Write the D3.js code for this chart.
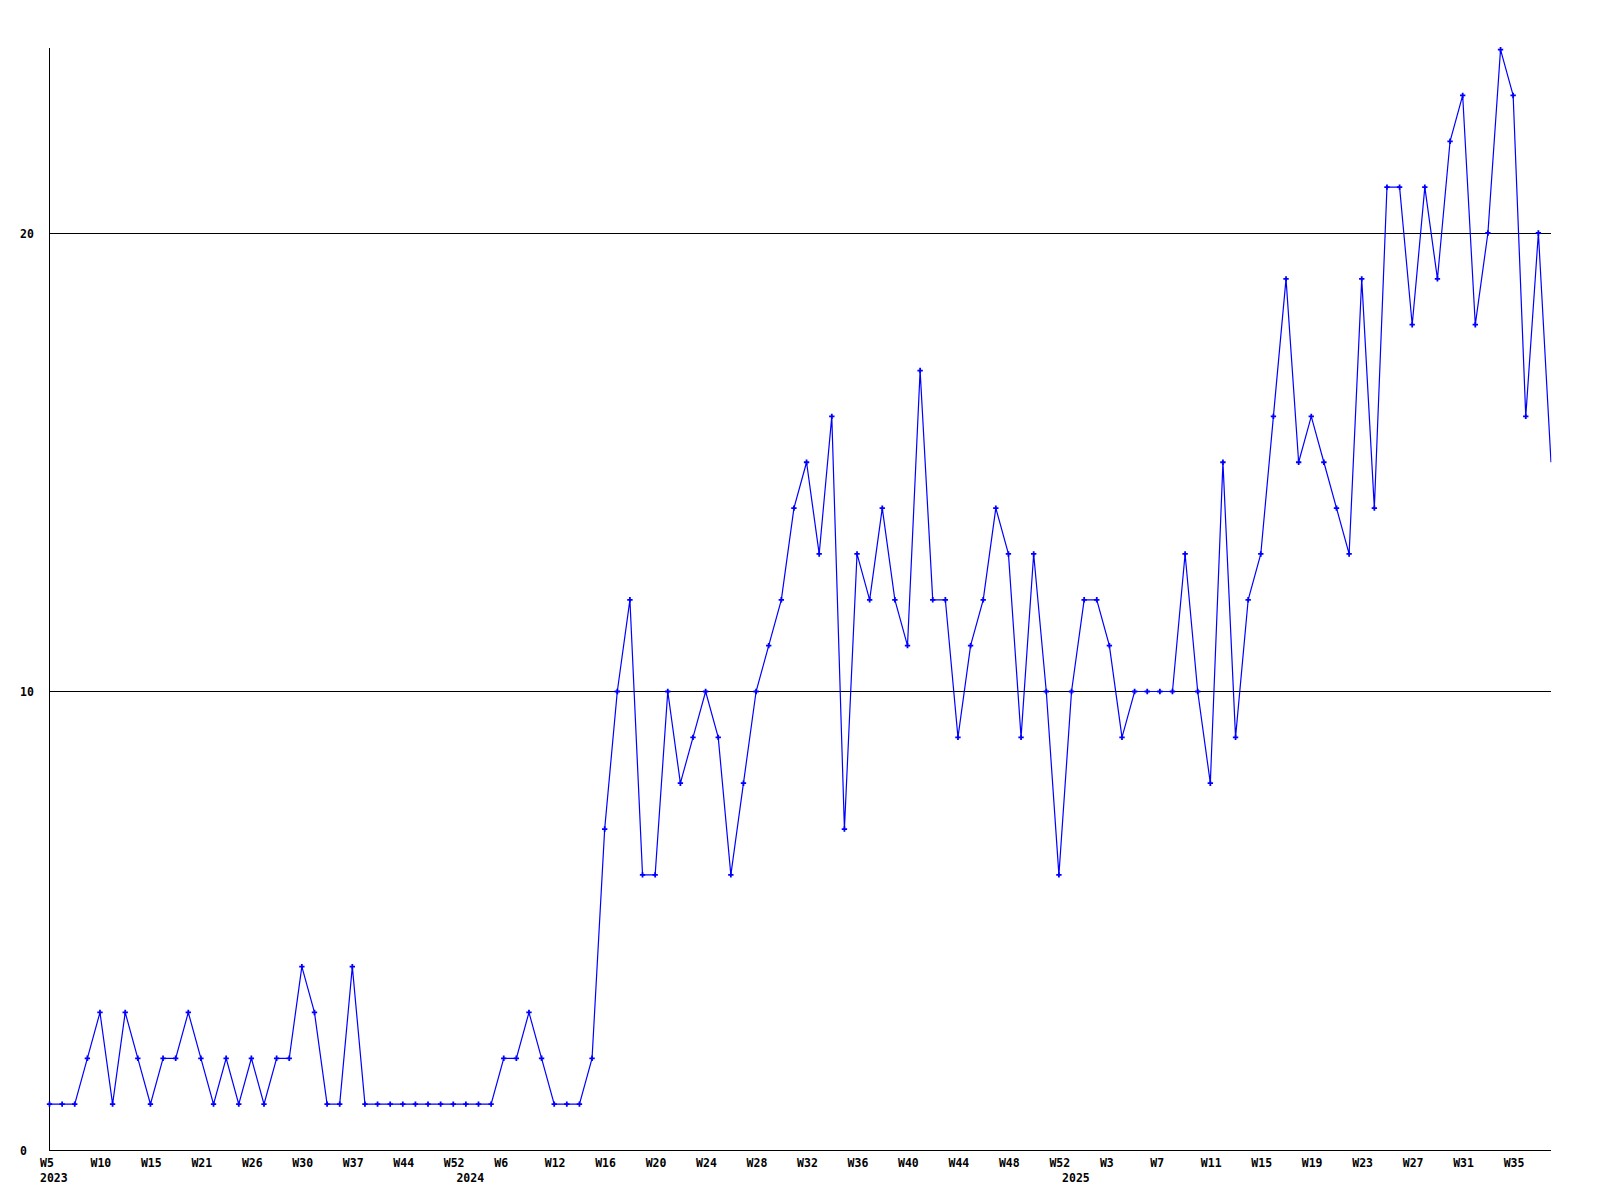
<!DOCTYPE html>
<html>
<head>
<meta charset="utf-8">
<script src="https://cdn.jsdelivr.net/npm/d3@7"></script>
<style>
  html, body { margin: 0; padding: 0; background: #fff; }
  svg { display: block; }
  text { font-family: "DejaVu Sans Mono", "Liberation Mono", monospace; font-weight: bold; font-size: 11.5px; fill: #000; }
</style>
</head>
<body>
<svg id="chart" width="1600" height="1200"></svg>
<script>
// ---- data ----
const values = [
  1,1,1,2,3,1,3,2,1,2,
  2,3,2,1,2,1,2,1,2,2,
  4,3,1,1,4,1,1,1,1,1,
  1,1,1,1,1,1,2,2,3,2,
  1,1,1,2,7,10,12,6,6,10,
  8,9,10,9,6,8,10,11,12,14,
  15,13,16,7,13,12,14,12,11,17,
  12,12,9,11,12,14,13,9,13,10,
  6,10,12,12,11,9,10,10,10,10,
  13,10,8,15,9,12,13,16,19,15,
  16,15,14,13,19,14,21,21,18,21,
  19,22,23,18,20,24,23,16,20,15
];
const weekLabels = ["W5","W10","W15","W21","W26","W30","W37","W44","W52","W6",
  "W12","W16","W20","W24","W28","W32","W36","W40","W44","W48",
  "W52","W3","W7","W11","W15","W19","W23","W27","W31","W35"];
const weekLabelIdx = d3.range(0, 120, 4);
const yearLabels = ["2023","2024","2025"];
const yearIdx = [0, 33, 81];
const yTicks = [0, 10, 20];
const gridValues = [10, 20];

// ---- layout ----
const mLeft = 49.5, mRight = 1551, mBottom = 1150, mTop = 49.6;
const svg = d3.select("#chart");

const x = d3.scaleLinear().domain([0, values.length - 1]).range([mLeft, mRight]);
const y = d3.scaleLinear().domain([0, 24]).range([mBottom, mTop]);

// gridlines
svg.append("g").selectAll("line").data(gridValues).join("line")
  .attr("x1", 49).attr("x2", mRight)
  .attr("y1", d => Math.round(y(d)) + 0.5).attr("y2", d => Math.round(y(d)) + 0.5)
  .attr("stroke", "#000").attr("stroke-width", 1).attr("shape-rendering", "crispEdges");

// baseline
svg.append("line").attr("x1", 49).attr("x2", mRight)
  .attr("y1", mBottom + 0.5).attr("y2", mBottom + 0.5)
  .attr("stroke", "#000").attr("shape-rendering", "crispEdges");
// y axis line
svg.append("line").attr("x1", 49.5).attr("x2", 49.5)
  .attr("y1", 48).attr("y2", mBottom + 1)
  .attr("stroke", "#000").attr("shape-rendering", "crispEdges");

// y axis labels
const yAxis = d3.axisLeft(y).tickValues(yTicks).tickSize(0).tickFormat(d3.format("d"));
const yg = svg.append("g").attr("transform", "translate(49,0)").call(yAxis);
yg.select(".domain").remove();
yg.attr("font-family", null).attr("font-size", null);
yg.selectAll("text").attr("x", -29).attr("text-anchor", "start").attr("dy", "0.35em");

// x axis week labels
const xAxis = d3.axisBottom(x).tickValues(weekLabelIdx).tickSize(0)
  .tickFormat((d, i) => weekLabels[i]);
const xg = svg.append("g").attr("transform", `translate(0,${mBottom})`).call(xAxis);
xg.select(".domain").remove();
xg.attr("font-family", null).attr("font-size", null);
xg.selectAll("text").attr("x", -10).attr("y", 12.5).attr("dy", "0.35em").attr("text-anchor", "start");

// year labels
const yearAxis = d3.axisBottom(x).tickValues(yearIdx).tickSize(0)
  .tickFormat((d, i) => yearLabels[i]);
const yrg = svg.append("g").attr("transform", `translate(0,${mBottom})`).call(yearAxis);
yrg.select(".domain").remove();
yrg.attr("font-family", null).attr("font-size", null);
yrg.selectAll("text").attr("x", -10).attr("y", 27.5).attr("dy", "0.35em").attr("text-anchor", "start");

// clip
svg.append("clipPath").attr("id", "plotclip").append("rect")
  .attr("x", 44).attr("y", 40).attr("width", mRight - 44 + 0.5).attr("height", mBottom - 38);

const plot = svg.append("g").attr("clip-path", "url(#plotclip)");

const line = d3.line().x((d, i) => x(i)).y(d => y(d));
plot.append("path").datum(values)
  .attr("d", line)
  .attr("fill", "none")
  .attr("stroke", "#0000ff")
  .attr("stroke-width", 1.2);

const sym = d3.symbol().type(d3.symbolCross).size(16);
plot.selectAll("path.pt").data(values.slice(0, values.length - 1)).join("path")
  .attr("class", "pt")
  .attr("transform", (d, i) => `translate(${x(i)},${y(d)})`)
  .attr("d", sym)
  .attr("fill", "#0000ff");
</script>
</body>
</html>
